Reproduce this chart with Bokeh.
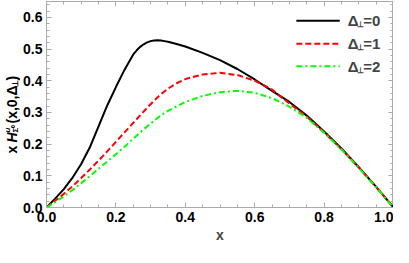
import math
from bokeh.plotting import figure
from bokeh.layouts import row
from bokeh.models import FixedTicker, Label, LinearAxis, CustomJSTickFormatter, Range1d
from bokeh.core.properties import value
from bokeh.embed import file_html
from bokeh.resources import INLINE

# ---- data ----
x_d0 = [0.0, 0.025, 0.05, 0.075, 0.1, 0.125, 0.15, 0.175, 0.2, 0.225, 0.25, 0.26, 0.27,
        0.28, 0.29, 0.3, 0.31, 0.32, 0.33, 0.34, 0.35, 0.375, 0.4, 0.45, 0.5, 0.55, 0.6,
        0.65, 0.7, 0.75, 0.8, 0.85, 0.9, 0.95, 1.0]
y_d0 = [0.0, 0.028, 0.058, 0.094, 0.137, 0.19, 0.256, 0.322, 0.38, 0.435, 0.483, 0.496, 0.507,
        0.515, 0.521, 0.525, 0.527, 0.528, 0.527, 0.525, 0.523, 0.516, 0.508, 0.488, 0.465,
        0.437, 0.404, 0.368, 0.333, 0.29, 0.24, 0.186, 0.127, 0.065, 0.0]
x_d1 = [0.0, 0.025, 0.05, 0.075, 0.1, 0.125, 0.15, 0.175, 0.2, 0.225, 0.25, 0.275, 0.3,
        0.325, 0.35, 0.375, 0.4, 0.45, 0.5, 0.55, 0.6, 0.65, 0.7, 0.75, 0.8, 0.85, 0.9,
        0.95, 1.0]
y_d1 = [0.0, 0.021, 0.043, 0.067, 0.093, 0.12, 0.148, 0.177, 0.207, 0.237, 0.267, 0.297, 0.326,
        0.353, 0.375, 0.392, 0.405, 0.42, 0.425, 0.418, 0.4, 0.372, 0.328, 0.287, 0.237,
        0.184, 0.126, 0.065, 0.0]
x_d2 = [0.0, 0.025, 0.05, 0.075, 0.1, 0.125, 0.15, 0.175, 0.2, 0.225, 0.25, 0.275, 0.3,
        0.325, 0.35, 0.4, 0.45, 0.5, 0.55, 0.6, 0.65, 0.7, 0.75, 0.8, 0.85, 0.9, 0.95, 1.0]
y_d2 = [0.0, 0.017, 0.035, 0.055, 0.077, 0.099, 0.122, 0.145, 0.168, 0.192, 0.217, 0.242, 0.265,
        0.287, 0.305, 0.333, 0.352, 0.364, 0.368, 0.362, 0.345, 0.318, 0.283, 0.236, 0.183,
        0.125, 0.064, 0.0]
series_labels = ["0", "1", "2"]

x_ticks = [0.0, 0.2, 0.4, 0.6, 0.8, 1.0]
x_minor = [round(i * 0.05, 2) for i in range(21)]
y_ticks = [0.0, 0.1, 0.2, 0.3, 0.4, 0.5, 0.6]
y_minor = [round(i * 0.02, 2) for i in range(33)]
x_tick_labels = {0.0: "0.0", 0.2: "0.2", 0.4: "0.4", 0.6: "0.6", 0.8: "0.8", 1.0: "1.0"}
y_tick_labels = {0.0: "0.0", 0.1: "0.1", 0.2: "0.2", 0.3: "0.3", 0.4: "0.4", 0.5: "0.5", 0.6: "0.6"}

FONT = "Liberation Sans"
GRAY = "#aaaaaa"
LW = 20          # width of the strip holding the y-axis title
TOTAL_W, TOTAL_H = 393, 247
BOTTOM = 40
TOP = 1
FRAME_H = TOTAL_H - BOTTOM - TOP

p = figure(width=TOTAL_W - LW, height=TOTAL_H, output_backend="svg", toolbar_location=None,
           x_range=Range1d(0, 1), y_range=Range1d(0, 0.65),
           min_border_left=24, min_border_right=0, min_border_top=TOP, min_border_bottom=BOTTOM,
           x_axis_location=None, y_axis_location=None)
p.grid.visible = False
p.outline_line_color = GRAY
p.background_fill_color = "white"
p.border_fill_color = "white"

def style_axis(ax, ticks, minor, labels, show):
    ax.ticker = FixedTicker(ticks=ticks, minor_ticks=minor)
    ax.axis_line_color = GRAY
    ax.major_tick_line_color = GRAY
    ax.minor_tick_line_color = GRAY
    ax.major_tick_in = 5
    ax.major_tick_out = 0
    ax.minor_tick_in = 3
    ax.minor_tick_out = 0
    if show:
        ax.major_label_overrides = labels
        ax.major_label_text_font = FONT
        ax.major_label_text_font_style = "bold"
        ax.major_label_text_font_size = "14px"
        ax.major_label_text_color = "black"
    else:
        ax.formatter = CustomJSTickFormatter(code="return ''")
        ax.major_label_standoff = 0
        ax.major_label_text_font_size = "0px"

xb = LinearAxis()
style_axis(xb, x_ticks, x_minor, x_tick_labels, True)
xb.major_label_standoff = 4
xb.axis_label = "x"
xb.axis_label_text_font = FONT
xb.axis_label_text_font_style = "bold"
xb.axis_label_text_font_size = "14px"
xb.axis_label_standoff = 2
p.add_layout(xb, "below")

yl = LinearAxis()
style_axis(yl, y_ticks, y_minor, y_tick_labels, True)
yl.major_label_standoff = 4
p.add_layout(yl, "left")

xt = LinearAxis()
style_axis(xt, x_ticks, x_minor, x_tick_labels, False)
p.add_layout(xt, "above")
yr = LinearAxis()
style_axis(yr, y_ticks, y_minor, y_tick_labels, False)
p.add_layout(yr, "right")

colors = ["black", "#ff0000", "#00ff00"]
dashes = ["solid", "6 3", "6 3 2 3"]
for xs, ys, c, d in zip([x_d0, x_d1, x_d2], [y_d0, y_d1, y_d2], colors, dashes):
    p.line(xs, ys, line_color=c, line_width=2, line_dash=d)

# ---- legend (manual, to allow the subscript) ----
leg_x0, leg_x1, leg_tx = 0.72, 0.845, 0.868
leg_rows = [0.589, 0.517, 0.446]
for lab, c, d, yy in zip(series_labels, colors, dashes, leg_rows):
    p.segment(x0=[leg_x0], y0=[yy], x1=[leg_x1], y1=[yy], line_color=c, line_width=2, line_dash=d)
    p.add_layout(Label(x=leg_tx, y=yy, text="Δ", text_font=FONT, text_font_style="bold",
                       text_font_size="15px", text_baseline="middle", text_align="left"))
    p.add_layout(Label(x=leg_tx, y=yy, x_offset=9, y_offset=-4, text="⊥", text_font=FONT,
                       text_font_style="bold", text_font_size="8px", text_baseline="middle",
                       text_align="left"))
    p.add_layout(Label(x=leg_tx, y=yy, x_offset=15.5, text="=" + lab, text_font=FONT,
                       text_font_style="bold", text_font_size="15px", text_baseline="middle",
                       text_align="left"))

# ---- y axis title in its own strip, composed of pieces (rotated) ----
t = figure(width=LW, height=TOTAL_H, output_backend="svg", toolbar_location=None,
           x_range=Range1d(0, LW), y_range=Range1d(0, FRAME_H),
           min_border_left=0, min_border_right=0, min_border_top=TOP, min_border_bottom=BOTTOM,
           x_axis_location=None, y_axis_location=None)
t.grid.visible = False
t.outline_line_color = None
t.background_fill_color = "white"
t.border_fill_color = "white"

XC = 11
Y0 = 54
A = math.pi / 2
pieces = [
    ("x", 0, 0, "14px", "bold"),
    ("H", 11, 0, "14px", "bold italic"),
    ("u", 21, -4, "8px", "bold italic"),
    ("Σ⁰", 21, 3.5, "8px", "bold"),
    ("(x,0,Δ", 30, 0, "14px", "bold"),
    ("⊥", 67, 3.5, "8px", "bold"),
    (")", 73, 0, "14px", "bold"),
]
for txt, yo, xo, fs, st in pieces:
    t.text(x=[XC + xo], y=[Y0 + yo], text=[txt], angle=A,
           text_font=value(FONT), text_font_style=st, text_font_size=fs,
           text_baseline="middle", text_align="left", text_color="black")

layout = row(t, p)
open("out.html", "w").write(file_html(layout, INLINE))
